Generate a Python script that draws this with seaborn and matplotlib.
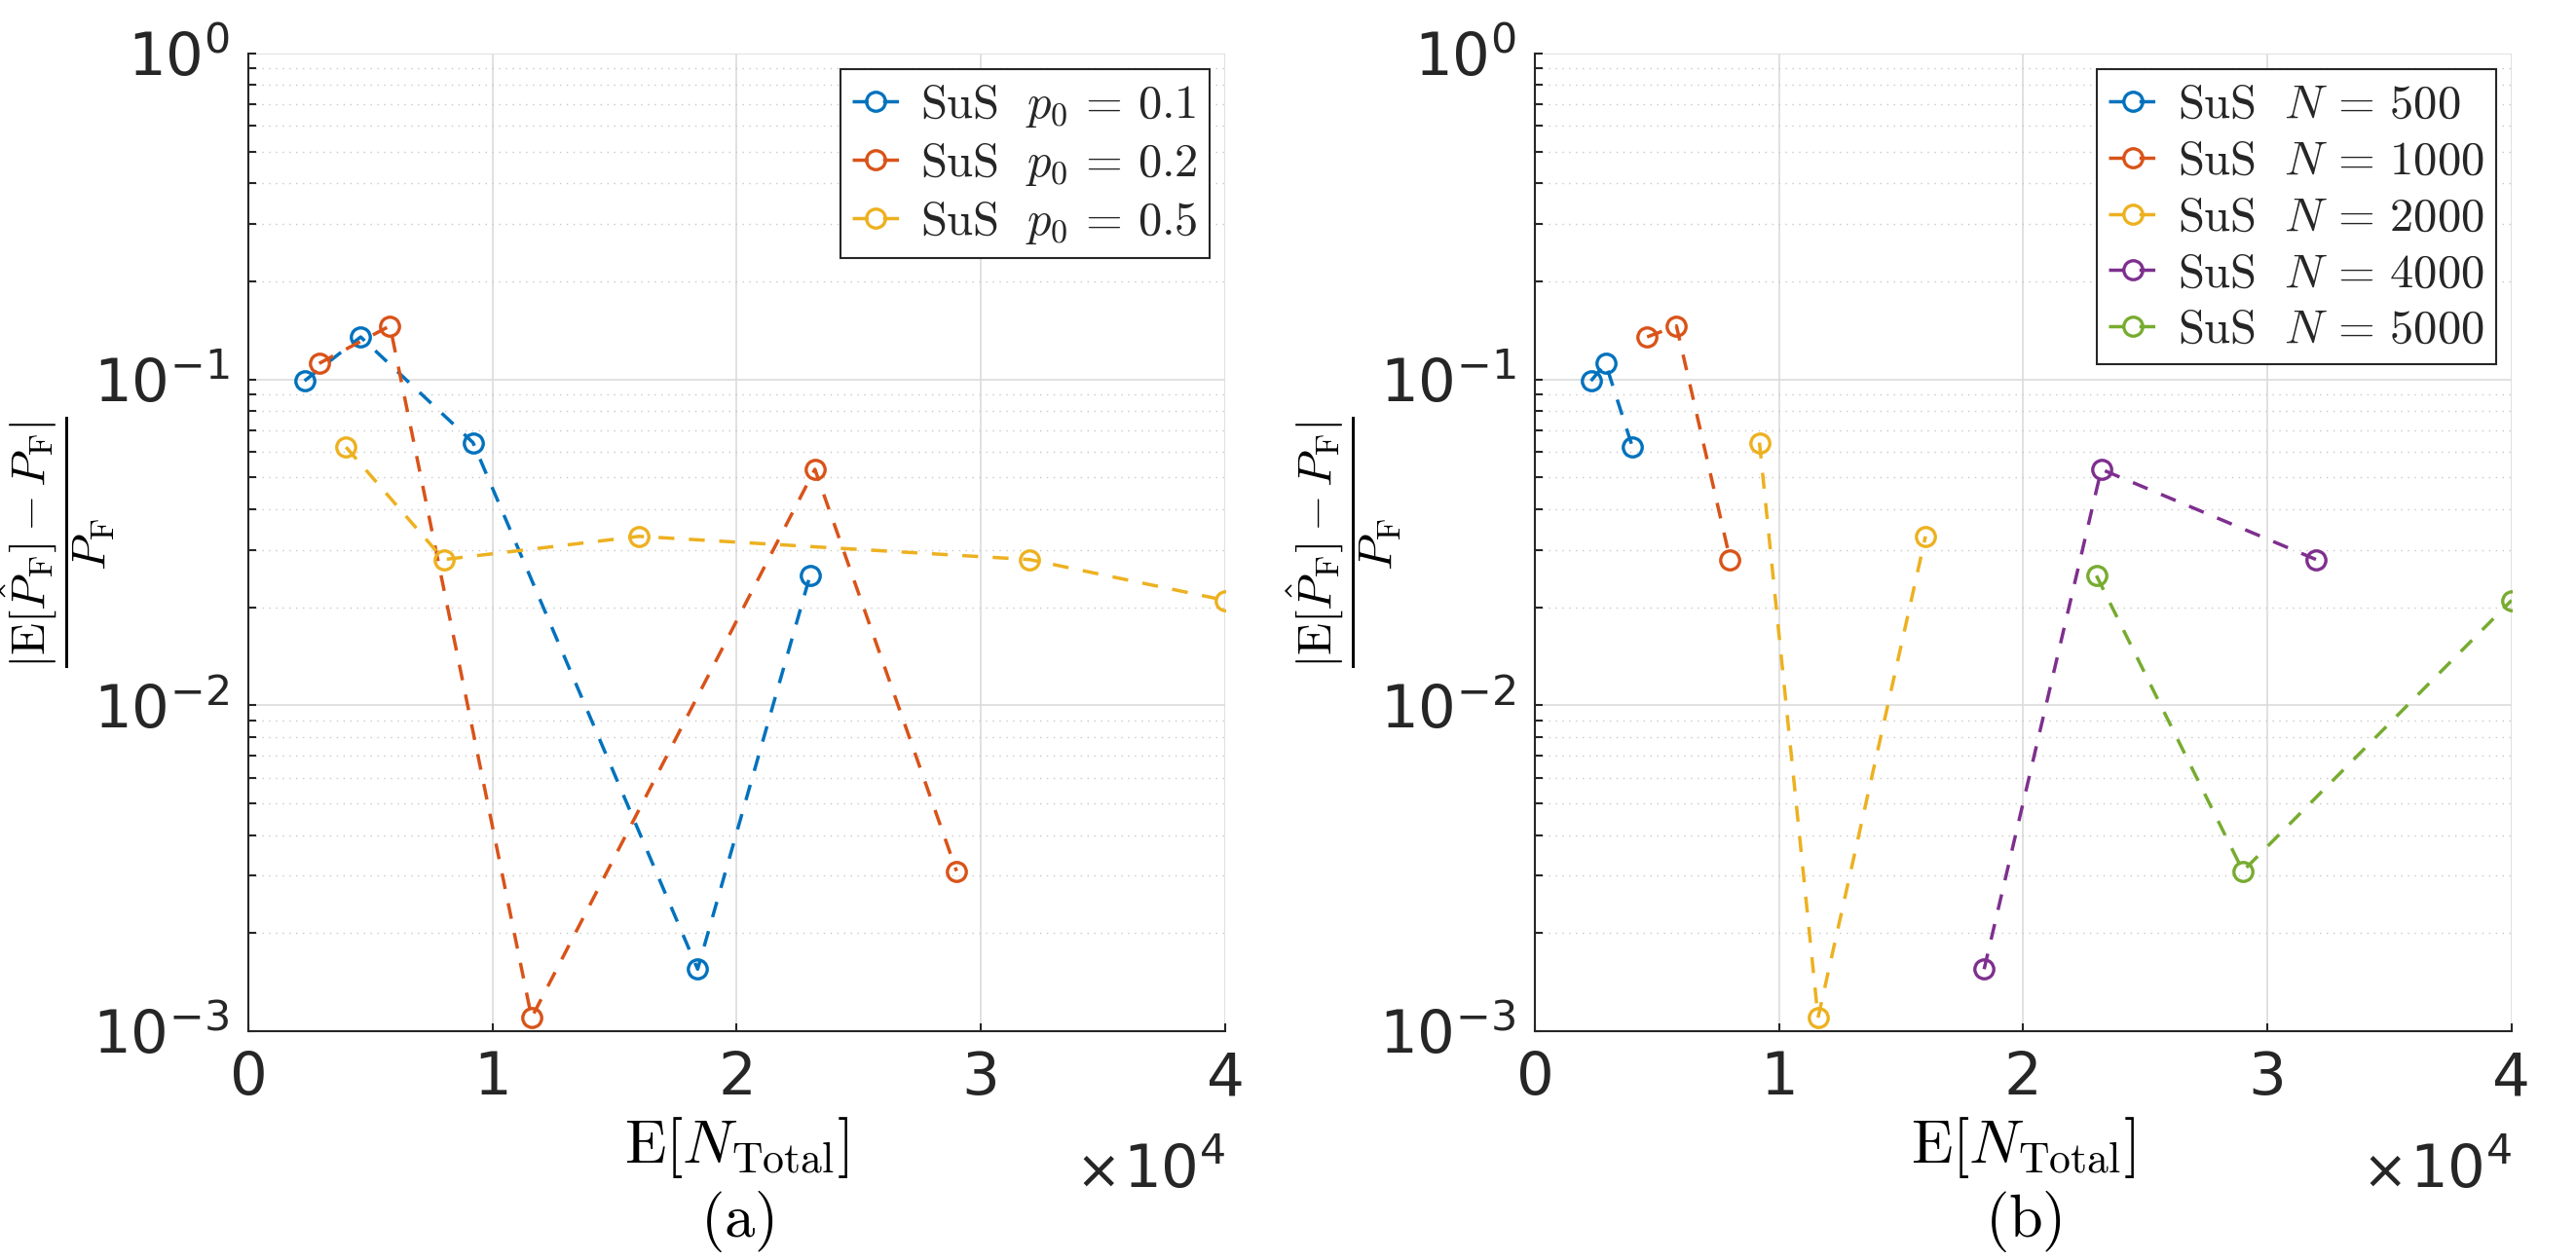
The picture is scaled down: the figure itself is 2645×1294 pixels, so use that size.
"""
Relative bias of SuS failure probability estimates vs. expected total samples.
(a) grouped by level probability p0, (b) grouped by samples per level N.
"""

import numpy as np
import pandas as pd
import matplotlib
matplotlib.use('Agg')
import matplotlib.pyplot as plt
import seaborn as sns
from matplotlib.ticker import LogLocator, FixedLocator, FuncFormatter, NullFormatter, LogFormatterMathtext
from matplotlib.font_manager import FontProperties

# samples per level and level probabilities
SAMPLE_SIZES = [500, 1000, 2000, 4000, 5000]
P0_VALUES = [0.1, 0.2, 0.5]

# E[N_Total] for each p0, in the order of SAMPLE_SIZES
N_TOTAL_P01 = [2300, 4600, 9200, 18400, 23000]
N_TOTAL_P02 = [2900, 5800, 11600, 23200, 29000]
N_TOTAL_P05 = [4000, 8000, 16000, 32000, 40000]

# relative bias |E[P_hat]-P_F|/P_F
ERR_P01 = [0.099, 0.135, 0.064, 0.00155, 0.025]
ERR_P02 = [0.112, 0.146, 0.0011, 0.053, 0.0031]
ERR_P05 = [0.062, 0.028, 0.033, 0.028, 0.021]

COLORS = ['#0072BD', '#D95319', '#EDB120', '#7E2F8E', '#77AC30']
TEXT_COLOR = '#262626'

rows = []
for p0, ntot, err in zip(P0_VALUES, [N_TOTAL_P01, N_TOTAL_P02, N_TOTAL_P05],
                         [ERR_P01, ERR_P02, ERR_P05]):
    for n, x, y in zip(SAMPLE_SIZES, ntot, err):
        rows.append({'p0': p0, 'N': n, 'n_total': x, 'err': y})
df = pd.DataFrame(rows)

sns.set_style('ticks')
plt.rcParams['font.family'] = ['DejaVu Sans']
plt.rcParams['mathtext.fontset'] = 'dejavusans'

fig = plt.figure(figsize=(26.45, 12.94), dpi=100)
ax_a = fig.add_axes([0.0964, 0.1816, 0.3792, 0.7759])
ax_b = fig.add_axes([0.5958, 0.1816, 0.3792, 0.7759])

YLABEL = r'$\dfrac{|\mathrm{E}[\hat{P}_{\mathrm{F}}]-P_{\mathrm{F}}|}{P_{\mathrm{F}}}$'
XLABEL = r'$\mathrm{E}[N_{\mathrm{Total}}]$'
legend_font = FontProperties(size=35, math_fontfamily='cm')


def draw_panel(ax, group_col, groups, symbol, tag):
    for i, g in enumerate(groups):
        sub = df[df[group_col] == g]
        sns.lineplot(data=sub, x='n_total', y='err', ax=ax, sort=False, estimator=None,
                     color=COLORS[i], linestyle=(0, (4.7, 4.3)), linewidth=2.5,
                     marker='o', markersize=14, markerfacecolor='none',
                     markeredgecolor=COLORS[i], markeredgewidth=2.4,
                     label=r'$\mathrm{SuS}\ \ ' + symbol + r'\,=\,' + f'{g}' + '$')

    ax.set_yscale('log')
    ax.set_xlim(0, 40000)
    ax.set_ylim(1e-3, 1)
    ax.xaxis.set_major_locator(FixedLocator([0, 10000, 20000, 30000, 40000]))
    ax.xaxis.set_major_formatter(FuncFormatter(lambda v, _: f'{v / 1e4:g}'))
    ax.yaxis.set_major_locator(LogLocator(base=10, numticks=10))
    ax.yaxis.set_minor_locator(LogLocator(base=10, subs=np.arange(2, 10), numticks=20))
    ax.yaxis.set_major_formatter(LogFormatterMathtext())
    ax.yaxis.set_minor_formatter(NullFormatter())

    ax.grid(True, which='major', color='#dcdcdc', linewidth=1.2, linestyle='-')
    ax.grid(True, which='minor', axis='y', color='#c8c8c8', linewidth=1.0, linestyle=(0, (1, 4)))
    ax.set_axisbelow(True)

    for s in ['top', 'right']:
        ax.spines[s].set_visible(False)
    for s in ['left', 'bottom']:
        ax.spines[s].set_color(TEXT_COLOR)
        ax.spines[s].set_linewidth(1.5)
    ax.tick_params(which='both', direction='in', length=6, width=1.5, color=TEXT_COLOR,
                   labelsize=44, labelcolor=TEXT_COLOR)
    ax.tick_params(axis='x', pad=14)
    ax.tick_params(axis='y', pad=14)

    ax.set_xlabel('')
    ax.set_ylabel('')
    ax.text(0.5, -0.086, XLABEL, transform=ax.transAxes, ha='center', va='top',
            fontsize=45, math_fontfamily='cm', color='black')
    ax.text(0.5, -0.21, r'$\mathrm{' + tag + '}$', transform=ax.transAxes, ha='center',
            va='baseline', fontsize=45, math_fontfamily='cm', color='black')
    ax.text(1.0, -0.16, r'$\mathdefault{10^{4}}$', transform=ax.transAxes, ha='right',
            va='baseline', fontsize=44, color=TEXT_COLOR)
    ax.text(0.893, -0.16, '\u00d7', transform=ax.transAxes, ha='right',
            va='baseline', fontsize=40, color=TEXT_COLOR)
    ax.text(-0.195, 0.5, YLABEL, transform=ax.transAxes, rotation=90, ha='center', va='center',
            fontsize=35, math_fontfamily='cm', color='black')

    leg = ax.legend(loc='upper right', prop=legend_font, frameon=True, fancybox=False,
                    framealpha=1, edgecolor='#262626', borderaxespad=0.33,
                    handlelength=1.0, handletextpad=0.45, labelspacing=0.2,
                    borderpad=0.25)
    leg.get_frame().set_linewidth(1.5)


draw_panel(ax_a, 'p0', P0_VALUES, 'p_0', '(a)')
draw_panel(ax_b, 'N', SAMPLE_SIZES, 'N', '(b)')

fig.savefig('out.png', dpi=100)
plt.close(fig)
